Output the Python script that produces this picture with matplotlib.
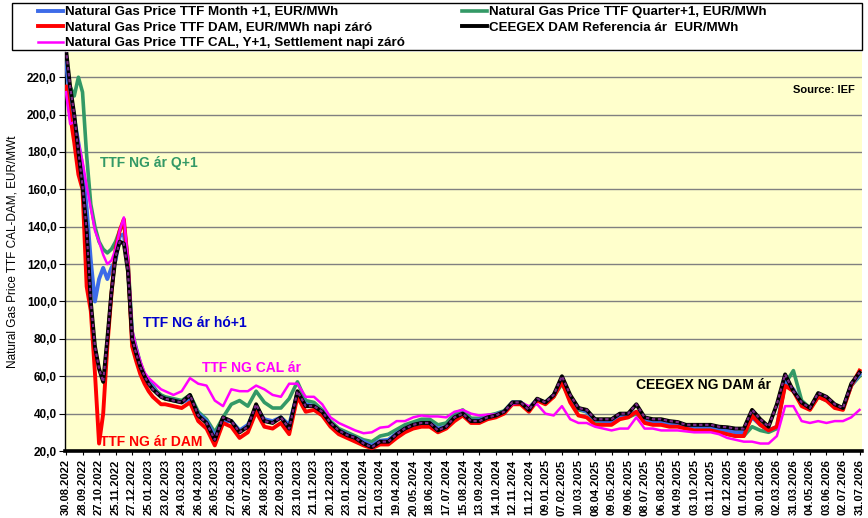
import numpy as np
import matplotlib
matplotlib.use("Agg")
import matplotlib.pyplot as plt
from matplotlib.patches import Rectangle

plt.rcParams['font.family'] = ['Liberation Sans', 'DejaVu Sans']

# category axis labels (one label every ~20 trading days)
tick_labels = [
    "30.08.2022", "28.09.2022", "27.10.2022", "25.11.2022", "27.12.2022",
    "25.01.2023", "23.02.2023", "24.03.2023", "26.04.2023", "26.05.2023",
    "27.06.2023", "26.07.2023", "24.08.2023", "22.09.2023", "23.10.2023",
    "21.11.2023", "20.12.2023", "23.01.2024", "21.02.2024", "21.03.2024",
    "19.04.2024", "20.05.2024", "18.06.2024", "17.07.2024", "15.08.2024",
    "13.09.2024", "14.10.2024", "12.11.2024", "11.12.2024", "09.01.2025",
    "07.02.2025", "10.03.2025", "08.04.2025", "09.05.2025", "09.06.2025",
    "08.07.2025", "06.08.2025", "04.09.2025", "03.10.2025", "03.11.2025",
    "02.12.2025", "01.01.2026", "30.01.2026", "02.03.2026", "31.03.2026",
    "04.05.2026", "03.06.2026", "02.07.2026", "31.07.2026",
]

# sample positions in label units: weekly in the volatile start, then ~bi-weekly
pos = np.concatenate([np.arange(0, 6, 0.25), np.arange(6, 48.01, 0.5)])

ceegex = [235, 215, 200, 180, 162, 138, 100, 76, 64, 57, 80, 105, 124, 132, 131, 116,
          80, 72, 65, 60, 56, 53, 51, 49,
          48, 47, 46, 50, 39, 35, 26, 38, 36, 30,
          33, 45, 36, 35, 38, 32, 52, 44, 44, 41,
          35, 31, 28.5, 27, 24, 22, 25, 25, 29, 32,
          34, 35, 35, 31, 33, 38, 40, 36, 36, 38,
          39, 41, 46, 46, 42, 48, 46, 50, 60, 50,
          43, 42, 37, 37, 37, 40, 40, 45, 38, 37,
          37, 36, 35.5, 34, 34, 34, 34, 33, 32.7, 32,
          32, 42, 37, 33, 45, 61, 52, 46, 43, 51,
          49, 45, 43, 56, 62]

ttf_dam = [215, 200, 185, 168, 160, 108, 95, 62, 24, 40, 76, 104, 128, 138, 144, 120,
           76, 68, 61, 56, 52, 49, 47, 45,
           45, 44, 43, 46, 36, 32, 23, 35, 33, 27,
           30, 41, 33, 32, 35, 29, 49, 41, 42, 39,
           33, 29, 27, 25, 23, 21.5, 23.5, 23.5, 27, 30,
           32, 33, 33, 30, 32, 36, 39, 35, 35, 37,
           38, 40, 45, 45, 41, 47, 45, 49, 57, 46,
           39, 38, 34, 34, 34, 37, 38, 41, 35, 34,
           34, 33, 33, 32, 31, 31, 31, 30, 29, 28,
           28, 39, 34, 31, 33, 55, 52, 44, 42, 49,
           47, 43, 42, 55, 63]

ttf_m1 = [228, 208, 198, 185, 172, 150, 122, 100, 112, 118, 112, 118, 122, 135, 136, 118,
          82, 74, 66, 60, 57, 54, 51, 49,
          48, 47, 46, 48, 40, 36, 28, 36, 36, 31,
          34, 43, 37, 36, 38, 34, 51, 45, 44, 41,
          35, 31, 29, 27, 25, 23, 25.5, 26, 29.5, 32,
          34, 35, 35, 32, 33, 38, 40, 36, 36.5, 38,
          39.5, 41, 46, 46, 43, 47.5, 46, 50, 58, 49,
          43, 41, 37, 36, 36, 39, 39, 41, 37, 36,
          36, 35, 34, 33, 33, 33, 33, 32, 31, 30,
          30, 38, 34, 31, 33, 57, 53, 45, 43, 49,
          48, 44, 43, 55, 61]

ttf_q1 = [222, 215, 210, 220, 212, 178, 152, 140, 132, 128, 126, 128, 132, 138, 142, 122,
          84, 75, 67, 61, 58, 55, 52, 50,
          49, 48, 47, 50, 41, 37, 30, 38, 45, 47,
          44, 52, 46, 43, 43, 48, 57, 47, 46, 42,
          36, 32, 30, 28, 26, 25, 28, 29, 31.5, 34,
          35.5, 37, 37, 34, 35, 40, 42, 37.5, 37.5, 39,
          40, 41.5, 46, 46, 43, 47, 46, 49, 56, 48,
          42, 41, 36, 36, 36, 38, 38, 40, 36, 35,
          35, 34, 34, 33, 33, 32, 32, 31, 29, 28,
          28, 33, 31, 30, 32, 56, 63, 47, 43, 49,
          47, 44, 43, 55, 60]

ttf_cal = [212, 195, 196, 185, 175, 162, 150, 138, 132, 125, 120, 122, 128, 138, 145, 122,
           85, 75, 68, 62, 59, 57, 55, 53,
           52, 50, 52, 59, 56, 55, 47, 44, 53, 52,
           52, 55, 53, 50, 49, 56, 56, 49, 49, 45,
           38, 35, 33, 31, 29.5, 30, 32.5, 33, 36, 36,
           38, 39, 38.5, 38.5, 38, 41, 42, 40, 39, 39.5,
           39.5, 41, 45, 46, 44, 45, 40, 39, 44, 37,
           35, 35, 33, 32, 31, 32, 32, 38, 32, 32,
           31, 31, 31, 30.5, 30, 30, 30, 29, 27, 26,
           25, 25, 24, 24, 28, 44, 44, 36, 35, 36,
           35, 36, 36, 38, 42]

fig = plt.figure(figsize=(8.68, 5.18), dpi=100)
ax = fig.add_axes([65 / 868, 1 - 451 / 518, 797 / 868, 399 / 518])
ax.set_facecolor('#FFFFCC')

l_q1, = ax.plot(pos, ttf_q1, color='#339966', lw=2.6, zorder=2)
l_m1, = ax.plot(pos, ttf_m1, color='#3D6BE8', lw=2.8, zorder=3)
l_dam, = ax.plot(pos, ttf_dam, color='#FF0000', lw=2.8, zorder=4)
l_cal, = ax.plot(pos, ttf_cal, color='#FF00FF', lw=1.8, zorder=5)
l_ceg, = ax.plot(pos, ceegex, color='black', lw=2.8, zorder=6)
ax.plot(pos, ceegex, color='#7A2A86', lw=1.6, ls=(0, (1.5, 1.2)), zorder=7)

ax.set_xlim(-0.06, 48.15)
ax.set_ylim(20, 233.5)
ax.set_yticks(np.arange(20, 221, 20))
ax.set_yticklabels([f"{v:.1f}".replace('.', ',') for v in np.arange(20, 221, 20)],
                   fontsize=8.5, fontweight='bold')
ax.set_xticks(np.arange(len(tick_labels)))
ax.set_xticklabels(tick_labels, rotation=90, fontsize=8, fontweight='bold')
ax.tick_params(axis='x', length=3, pad=3)
ax.tick_params(axis='y', length=4, pad=2)
ax.grid(axis='y', color='#808080', lw=1)
ax.set_axisbelow(True)
for s in ['top', 'right']:
    ax.spines[s].set_visible(False)
ax.spines['bottom'].set_linewidth(2.6)
ax.spines['left'].set_linewidth(1)
ax.set_ylabel("Natural Gas Price TTF CAL-DAM, EUR/MWt", fontsize=8.5, labelpad=6)

ax.text(2.06, 174, "TTF NG ár Q+1", color='#339966', fontsize=10, fontweight='bold', va='center')
ax.text(4.66, 88.4, "TTF NG ár hó+1", color='#0000CC', fontsize=10, fontweight='bold', va='center')
ax.text(8.22, 64.3, "TTF NG CAL ár", color='#FF00FF', fontsize=10, fontweight='bold', va='center')
ax.text(2.06, 24.7, "TTF NG ár DAM", color='#FF0000', fontsize=10, fontweight='bold', va='center')
ax.text(34.5, 55.2, "CEEGEX NG DAM ár", color='black', fontsize=10, fontweight='bold', va='center')
ax.text(47.7, 213, "Source: IEF", color='black', fontsize=8, fontweight='bold', va='center', ha='right')

# legend box on top of the plot area
fig.patches.append(Rectangle((12 / 868, 1 - 50 / 518), 850 / 868, 47 / 518,
                             transform=fig.transFigure, facecolor='white',
                             edgecolor='black', lw=1, zorder=10))
leg_kw = dict(frameon=False, loc='upper left', borderpad=0, borderaxespad=0,
              handlelength=1.9, handletextpad=0.15, labelspacing=0.24,
              prop={'size': 9.6, 'weight': 'bold'})
leg1 = fig.legend([l_m1, l_dam, l_cal],
                  ["Natural Gas Price TTF Month +1, EUR/MWh",
                   "Natural Gas Price TTF DAM, EUR/MWh napi záró",
                   "Natural Gas Price TTF CAL, Y+1, Settlement napi záró"],
                  bbox_to_anchor=(38 / 868, 1 - 6 / 518), **leg_kw)
leg2 = fig.legend([l_q1, l_ceg],
                  ["Natural Gas Price TTF Quarter+1, EUR/MWh",
                   "CEEGEX DAM Referencia ár  EUR/MWh"],
                  bbox_to_anchor=(462 / 868, 1 - 6 / 518), **leg_kw)
leg1.set_zorder(11)
leg2.set_zorder(11)

fig.savefig("out.png", dpi=100)
